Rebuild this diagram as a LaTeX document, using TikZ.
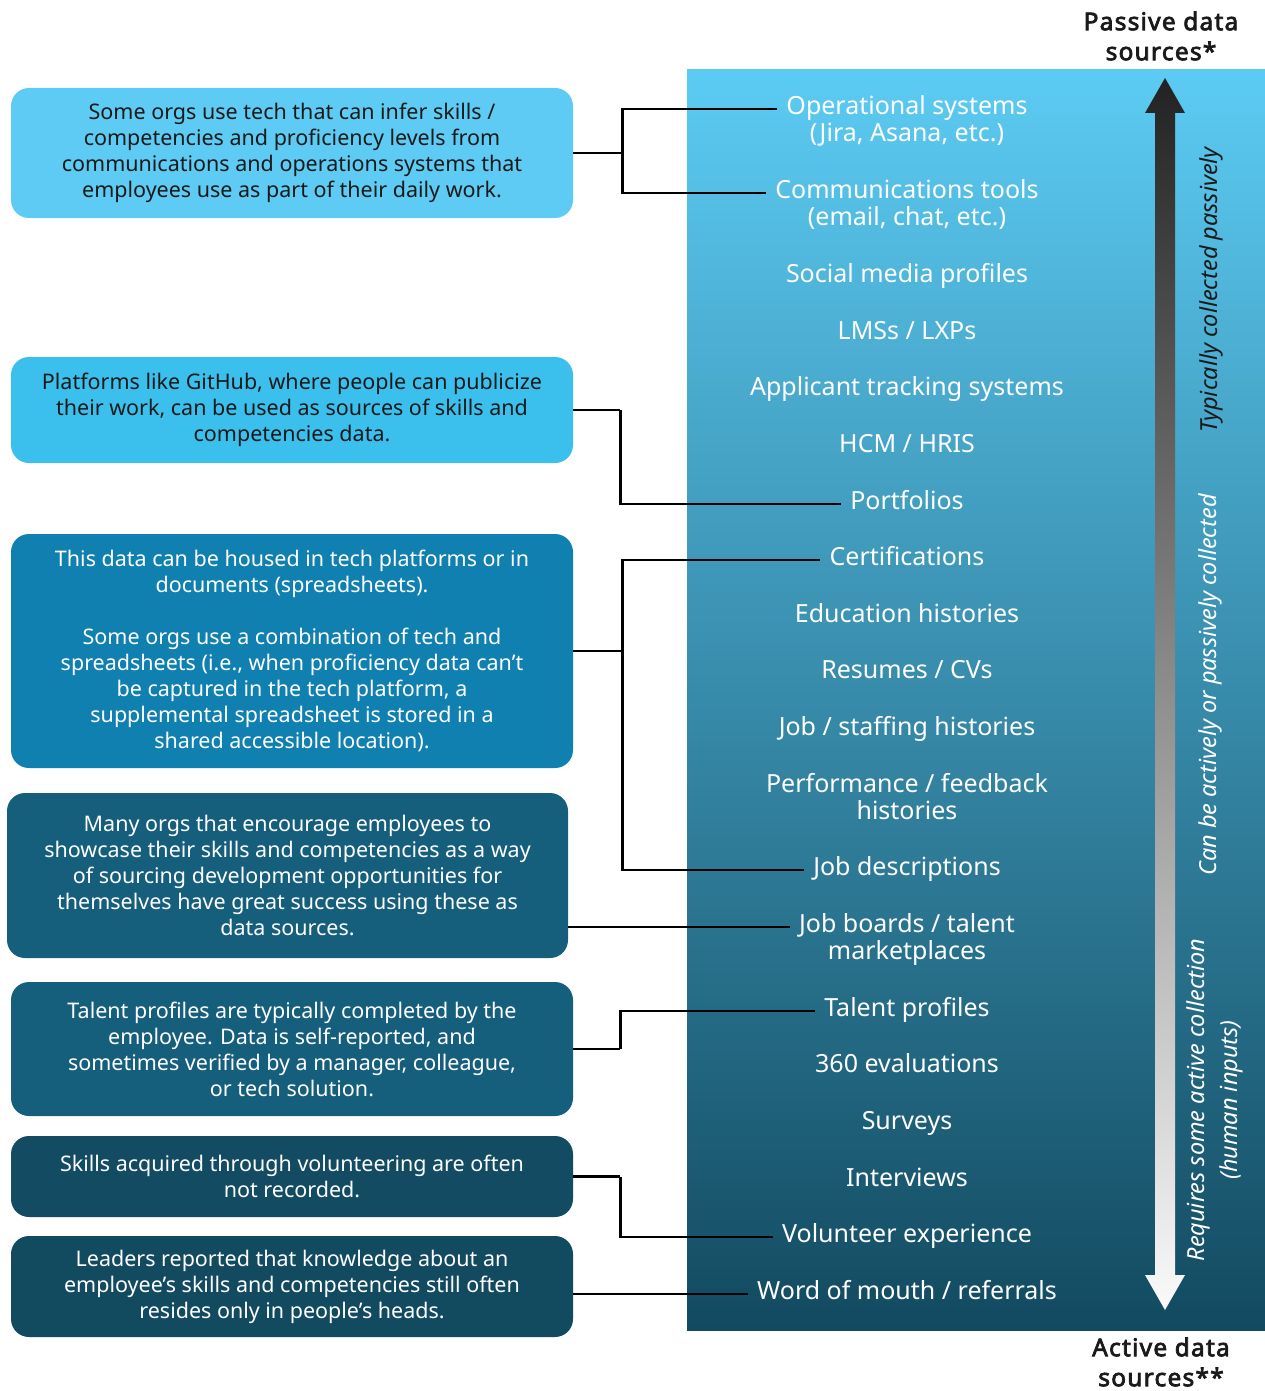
\documentclass[tikz,border=0pt]{standalone}
\usepackage{fontspec}
\setmainfont{Noto Sans}
\newfontfamily\titlefont{Noto Sans}[FakeBold=3,LetterSpace=5]
\definecolor{cB1}{HTML}{5DCBF3}
\definecolor{cB2}{HTML}{3BBFED}
\definecolor{cB3}{HTML}{1080B0}
\definecolor{cB4}{HTML}{155E7C}
\definecolor{cB5}{HTML}{155E7C}
\definecolor{cB6}{HTML}{124B62}
\definecolor{cB7}{HTML}{124A60}
\definecolor{ptop}{HTML}{5CCBF3}
\definecolor{pmid}{HTML}{2A8DB3}
\definecolor{pbot}{HTML}{124A60}
\definecolor{txtdark}{HTML}{1A1A1A}
\definecolor{arrtop}{HTML}{222222}
\definecolor{arrbot}{HTML}{FAFAFA}
\tikzset{
  box/.style={rounded corners=18pt, minimum width=562pt, align=center,
    font=\fontsize{21.5}{26}\selectfont, inner sep=0pt},
  item/.style={font=\fontsize{25}{27}\selectfont, text=white, inner xsep=9pt,
    inner ysep=0pt, text height=17pt, text depth=6pt},
  conn/.style={line width=2.8pt, black},
  title/.style={font=\titlefont\fontsize{24.5}{30}\selectfont, text=txtdark, align=center, inner sep=0pt},
  side/.style={font=\fontsize{23.5}{33}\selectfont\itshape, align=center, rotate=90, inner sep=0pt},
}
\begin{document}
\begin{tikzpicture}[x=1pt,y=-1pt]
\useasboundingbox (0,0) rectangle (1265,1391);
% panel
\shade[top color=ptop, middle color=pmid, bottom color=pbot] (687,70) rectangle (1265,1330);
% arrow
\shade[top color=arrtop, bottom color=arrbot]
  (1165,78) -- (1185,113) -- (1175,113) -- (1175,1275) -- (1185,1275) -- (1165,1310)
  -- (1145,1275) -- (1155,1275) -- (1155,113) -- (1145,113) -- cycle;
% titles
\node[title] (tp) at (1161,36) {Passive data\\sources*};
\node[title] (ta) at (1161,1362) {Active data\\sources**};
% side labels
\node[side, text=txtdark] (s1) at (1211,290) {Typically collected passively};
\node[side, text=white] (s2) at (1210,685) {Can be actively or passively collected};
\node[side, text=white] (s3) at (1215,1100) {Requires some active collection\\(human inputs)};
% items
\node[item] (r1) at (907,109) {Operational systems};
\node[item] (r1b) at (907,136) {(Jira, Asana, etc.)};
\node[item] (r2) at (907,193) {Communications tools};
\node[item] (r2b) at (907,220) {(email, chat, etc.)};
\node[item] (r3) at (907,277) {Social media profiles};
\node[item] (r4) at (907,334) {LMSs / LXPs};
\node[item] (r5) at (907,390) {Applicant tracking systems};
\node[item] (r6) at (907,447) {HCM / HRIS};
\node[item] (r7) at (907,504) {Portfolios};
\node[item] (r8) at (907,560) {Certifications};
\node[item] (r9) at (907,617) {Education histories};
\node[item] (r10) at (907,673) {Resumes / CVs};
\node[item] (r11) at (907,730) {Job / staffing histories};
\node[item] (r12) at (907,787) {Performance / feedback};
\node[item] (r12b) at (907,814) {histories};
\node[item] (r13) at (907,870) {Job descriptions};
\node[item] (r14) at (907,927) {Job boards / talent};
\node[item] (r14b) at (907,954) {marketplaces};
\node[item] (r15) at (907,1011) {Talent profiles};
\node[item] (r16) at (907,1067) {360 evaluations};
\node[item] (r17) at (907,1124) {Surveys};
\node[item] (r18) at (907,1181) {Interviews};
\node[item] (r19) at (907,1237) {Volunteer experience};
\node[item] (r20) at (907,1294) {Word of mouth / referrals};
% boxes
\node[box, fill=cB1, text=txtdark, minimum height=130pt] (b1) at (292,153)
  {Some orgs use tech that can infer skills /\\competencies and proficiency levels from\\communications and operations systems that\\employees use as part of their daily work.};
\node[box, fill=cB2, text=txtdark, minimum height=106pt] (b2) at (292,410)
  {Platforms like GitHub, where people can publicize\\their work, can be used as sources of skills and\\competencies data.};
\node[box, fill=cB3, text=white, minimum height=234pt] (b3) at (292,651)
  {This data can be housed in tech platforms or in\\documents (spreadsheets).\\[26pt]Some orgs use a combination of tech and\\spreadsheets (i.e., when proficiency data can’t\\be captured in the tech platform, a\\supplemental spreadsheet is stored in a\\shared accessible location).};
\node[box, fill=cB4, text=white, minimum height=165pt, minimum width=561pt] (b4) at (287.5,875.5)
  {Many orgs that encourage employees to\\showcase their skills and competencies as a way\\of sourcing development opportunities for\\themselves have great success using these as\\data sources.};
\node[box, fill=cB5, text=white, minimum height=134pt] (b5) at (292,1049)
  {Talent profiles are typically completed by the\\employee. Data is self-reported, and\\sometimes verified by a manager, colleague,\\or tech solution.};
\node[box, fill=cB6, text=white, minimum height=81pt] (b6) at (292,1176.5)
  {Skills acquired through volunteering are often\\not recorded.};
\node[box, fill=cB7, text=white, minimum height=101pt] (b7) at (292,1286.5)
  {Leaders reported that knowledge about an\\employee’s skills and competencies still often\\resides only in people’s heads.};
% connectors
\draw[conn] (b1.east) -- ++(49,0) coordinate (j1);
\draw[conn] (r1.west) -| (j1) |- (r2.west);
\draw[conn] (b2.east) -- ++(47,0) coordinate (j2);
\draw[conn] (j2) |- (r7.west);
\draw[conn] (b3.east) -- ++(49,0) coordinate (j3);
\draw[conn] (r8.west) -| (j3) |- (r13.west);
\draw[conn] (r14.west -| b4.east) -- (r14.west);
\draw[conn] (b5.east) -- ++(47,0) coordinate (j5);
\draw[conn] (j5) |- (r15.west);
\draw[conn] (b6.east) -- ++(47,0) coordinate (j6);
\draw[conn] (j6) |- (r19.west);
\draw[conn] (r20.west -| b7.east) -- (r20.west);
\end{tikzpicture}
\end{document}
